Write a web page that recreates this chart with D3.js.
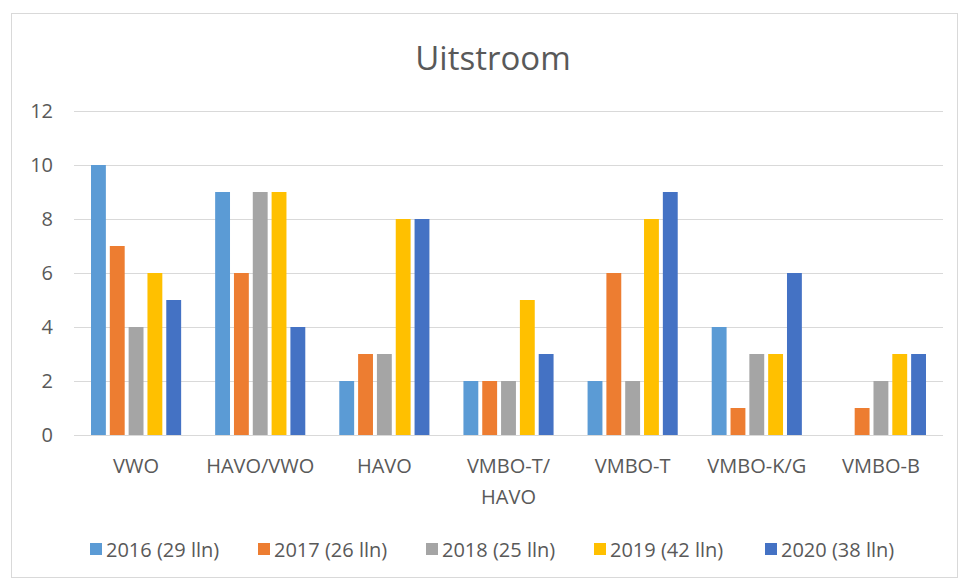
<!DOCTYPE html>
<html>
<head>
<meta charset="utf-8">
<script src="https://cdn.jsdelivr.net/npm/d3@7"></script>
<style>
  body { margin: 0; background: #fff; }
  text { font-family: 'Open Sans', 'Noto Sans', sans-serif; fill: #595959; }
</style>
</head>
<body>
<div id="chart"></div>
<script>
const categories = ['VWO', 'HAVO/VWO', 'HAVO', 'VMBO-T/ HAVO', 'VMBO-T', 'VMBO-K/G', 'VMBO-B'];
const years = ['2016 (29 lln)', '2017 (26 lln)', '2018 (25 lln)', '2019 (42 lln)', '2020 (38 lln)'];
const colors = ['#5B9BD5', '#ED7D31', '#A5A5A5', '#FFC000', '#4472C4'];
const v2016 = [10, 9, 2, 2, 2, 4, 0];
const v2017 = [7, 6, 3, 2, 6, 1, 1];
const v2018 = [4, 9, 3, 2, 2, 3, 2];
const v2019 = [6, 9, 8, 5, 8, 3, 3];
const v2020 = [5, 4, 8, 3, 9, 6, 3];
const yTicks = [0, 2, 4, 6, 8, 10, 12];

const series = [v2016, v2017, v2018, v2019, v2020];
const data = categories.map((c, i) => ({
  cat: c,
  values: years.map((yr, j) => ({ year: yr, value: series[j][i], color: colors[j] }))
}));

const W = 959, H = 580;
const margin = { top: 111, right: 16, bottom: 145, left: 74 };
const width = W - margin.left - margin.right,
  height = H - margin.top - margin.bottom;

const svg = d3.select('#chart').append('svg')
  .attr('width', W).attr('height', H);

// chart frame
svg.append('rect')
  .attr('x', 11.5).attr('y', 13.5)
  .attr('width', 946).attr('height', 564)
  .attr('fill', '#fff').attr('stroke', '#d9d9d9');

// title
svg.append('text')
  .attr('x', 493).attr('y', 70)
  .attr('text-anchor', 'middle')
  .style('font-size', '33px')
  .text('Uitstroom');

const g = svg.append('g')
  .attr('transform', 'translate(' + margin.left + ',' + margin.top + ')');

const y = d3.scaleLinear().domain([0, 12]).range([height, 0]);
const x0 = d3.scaleBand().domain(categories).range([0, width]);
const x1 = d3.scaleBand().domain(years)
  .range([17, x0.bandwidth() - 17]).paddingInner(0.21);

// gridlines
g.append('g')
  .selectAll('line')
  .data(yTicks)
  .join('line')
  .attr('x1', 0).attr('x2', width)
  .attr('y1', (d) => y(d) + 0.5).attr('y2', (d) => y(d) + 0.5)
  .attr('stroke', '#d9d9d9');

// y axis labels
const yAxis = g.append('g')
  .call(d3.axisLeft(y).tickValues(yTicks).tickSize(0).tickPadding(21));
yAxis.select('.domain').remove();
yAxis.selectAll('text').style('font-size', '20px').attr('fill', '#595959');

// bars
g.selectAll('.grp')
  .data(data)
  .join('g')
  .attr('class', 'grp')
  .attr('transform', (d) => 'translate(' + x0(d.cat) + ',0)')
  .selectAll('rect')
  .data((d) => d.values)
  .join('rect')
  .attr('x', (d) => x1(d.year))
  .attr('y', (d) => y(d.value))
  .attr('width', x1.bandwidth())
  .attr('height', (d) => y(0) - y(d.value))
  .attr('fill', (d) => d.color);

// x axis labels
const xAxis = g.append('g')
  .attr('transform', 'translate(0,' + height + ')')
  .call(d3.axisBottom(x0).tickSize(0).tickPadding(24));
xAxis.select('.domain').remove();
xAxis.selectAll('text')
  .style('font-size', '20px')
  .attr('fill', '#595959')
  .each(function (d) {
    const parts = d.split(' ');
    if (parts.length > 1) {
      const t = d3.select(this).text(null);
      parts.forEach((p, i) => {
        t.append('tspan').attr('x', 0).attr('dy', i === 0 ? '0.71em' : '1.55em').text(p);
      });
    }
  });

// legend
const legendX = [90, 258, 426, 594, 765];
const legend = svg.append('g');
years.forEach((yr, i) => {
  legend.append('rect')
    .attr('x', legendX[i]).attr('y', 543)
    .attr('width', 12).attr('height', 12)
    .attr('fill', colors[i]);
  legend.append('text')
    .attr('x', legendX[i] + 16).attr('y', 557)
    .style('font-size', '20px')
    .text(yr);
});
</script>
</body>
</html>
